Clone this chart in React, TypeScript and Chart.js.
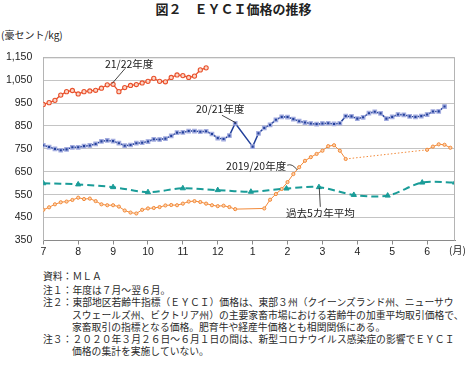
import { useEffect, useRef } from 'react';
import { Chart, registerables } from 'chart.js';

Chart.register(...registerables);

// x axis: months from July (0) to June (11); samples every 1/6 month
const MONTH_LABELS = ['7', '8', '9', '10', '11', '12', '1', '2', '3', '4', '5', '6'];
const STEP = 1 / 6;
const X_MAX = 11.8;

// 21/22年度
const fy2122 = [944, 952, 962, 985, 1000, 1005, 990, 1000, 1003, 1006, 1015, 1030, 1032, 1000, 1018, 1027,
  1031, 1038, 1045, 1058, 1045, 1043, 1062, 1073, 1070, 1062, 1068, 1095, 1104];

// 20/21年度
const fy2021 = [766, 758, 750, 744, 748, 757, 757, 762, 765, 772, 783, 787, 784, 775, 764, 767, 775, 777,
  782, 792, 791, 795, 807, 821, 822, 828, 828, 825, 827, 815, 797, 793, 808, 862,
  null, null,
  760, 818, 842, 855, 877, 890, 889, 880, 871, 865, 861, 858, 861, 862, 859, 862, 893, 892, 882, 888,
  906, 912, 905, 882, 890, 900, 899, 892, 890, 893, 900, 913, 914, 935];

// 2019/20年度
const fy1920 = [484, 495, 508, 517, 520, 527, 537, 531, 533, 522, 508, 504, 504, 498, 481, 472, 468, 484,
  490, 492, 496, 503, 505, 504, 511, 520, 522, 518, 511, 504, 500, 502, 496, 487,
  null, null, null, null,
  490, 528, 553, 575, 605, 640, 670, 698, 714, 728, 742, 762, 766, 742, 706,
  null, null, null, null, null, null, null, null, null, null, null, null, null,
  746, 760, 770, 768, 755];

// 過去5カ年平均
const avg5X = [0, 1, 2, 3, 4, 5, 5.95, 6.97, 7.9, 8.9, 9.87, 10.86, 11.8];
const avg5Y = [600, 595, 583, 561, 578, 570, 563, 577, 583, 549, 546, 603, 603];

// annotation labels (text position, then leader line start/end) in data units
const LABEL_TEXTS = ['21/22年度', '20/21年度', '2019/20年度', '過去5カ年平均'];
const LABEL_POS = [[2.46, 1122], [5.07, 923], [6.1, 675], [7.94, 472]];
const LEADERS = [[2.35, 1102, 1.97, 1035], [5.12, 897, 5.53, 863], [6.99, 679, 7.28, 658], [7.91, 580, 7.94, 497]];

const NOTES = [
  { text: '資料：ＭＬＡ', indent: false, y: 276 },
  { text: '注１：年度は７月～翌６月。', indent: false, y: 289.5 },
  { text: '注２：東部地区若齢牛指標（ＥＹＣＩ）価格は、東部３州（クイーンズランド州、ニューサウ', indent: false, y: 302 },
  { text: 'スウェールズ州、ビクトリア州）の主要家畜市場における若齢牛の加重平均取引価格で、', indent: true, y: 314.5 },
  { text: '家畜取引の指標となる価格。肥育牛や経産牛価格とも相関関係にある。', indent: true, y: 327 },
  { text: '注３：２０２０年３月２６日～６月１日の間は、新型コロナウイルス感染症の影響でＥＹＣＩ', indent: false, y: 339 },
  { text: '価格の集計を実施していない。', indent: true, y: 351 },
];

const toPoints = (arr: (number | null)[]) =>
  arr.map((v, i) => (v == null ? null : { x: i * STEP, y: v })).filter((p) => p !== null) as { x: number; y: number }[];

const CJK = '"Noto Sans CJK JP", sans-serif';

export default function App() {
  const ref = useRef<HTMLCanvasElement | null>(null);

  useEffect(() => {
    if (!ref.current) return;

    const annot = {
      id: 'annot',
      afterDatasetsDraw(chart: any) {
        const { ctx, chartArea, scales } = chart;
        const xs = scales.x;
        const ys = scales.y;
        ctx.save();
        ctx.strokeStyle = '#b4b4b4';
        ctx.lineWidth = 1;
        ctx.beginPath();
        ctx.moveTo(chartArea.left, chartArea.top + 0.5);
        ctx.lineTo(chartArea.right - 0.5, chartArea.top + 0.5);
        ctx.lineTo(chartArea.right - 0.5, chartArea.bottom);
        ctx.stroke();
        ctx.strokeStyle = '#333';
        ctx.lineWidth = 0.9;
        LEADERS.forEach((l, i) => {
          const x0 = xs.getPixelForValue(l[0]);
          const y0 = ys.getPixelForValue(l[1]);
          const x1 = xs.getPixelForValue(l[2]);
          const y1 = ys.getPixelForValue(l[3]);
          ctx.beginPath();
          ctx.moveTo(x0, y0);
          if (i === 2) {
            ctx.quadraticCurveTo((x0 + x1) / 2, y0 - 2, x1, y1);
          } else {
            ctx.lineTo(x1, y1);
          }
          ctx.stroke();
        });
        ctx.fillStyle = '#222';
        ctx.font = '10.5px ' + CJK;
        ctx.textAlign = 'center';
        ctx.textBaseline = 'middle';
        LABEL_TEXTS.forEach((t, i) => {
          ctx.fillText(t, xs.getPixelForValue(LABEL_POS[i][0]), ys.getPixelForValue(LABEL_POS[i][1]));
        });
        ctx.restore();
      },
    };

    const chart = new Chart(ref.current, {
      type: 'line',
      data: {
        datasets: [
          {
            label: '過去5カ年平均',
            data: avg5X.map((x, i) => ({ x, y: avg5Y[i] })),
            borderColor: '#1a9c98',
            backgroundColor: '#1a9c98',
            borderWidth: 2,
            borderDash: [7, 4],
            tension: 0.3,
            pointStyle: 'triangle',
            pointRadius: 3,
            pointBorderWidth: 1,
          },
          {
            label: '2019/20年度',
            data: toPoints(fy1920),
            borderColor: '#f28a3a',
            backgroundColor: '#fcd2ad',
            borderWidth: 1,
            pointStyle: 'circle',
            pointRadius: 1.6,
            pointBorderWidth: 1,
            pointBorderColor: '#f28a3a',
            segment: {
              borderDash: (ctx: any) => (ctx.p1.parsed.x - ctx.p0.parsed.x > 1.5 ? [1.5, 2] : undefined),
            },
          },
          {
            label: '20/21年度',
            data: toPoints(fy2021),
            borderColor: '#22409a',
            backgroundColor: '#22409a',
            borderWidth: 1.5,
            pointStyle: 'rect',
            pointRadius: 2.4,
            pointBorderWidth: 1.3,
            pointBorderColor: '#a3acdf',
          },
          {
            label: '21/22年度',
            data: toPoints(fy2122),
            borderColor: '#e9522d',
            backgroundColor: '#fbd6c8',
            borderWidth: 1.3,
            pointStyle: 'circle',
            pointRadius: 2.1,
            pointBorderWidth: 1.1,
            pointBorderColor: '#e9522d',
          },
        ],
      },
      options: {
        animation: false,
        responsive: false,
        maintainAspectRatio: false,
        layout: { padding: { top: 7.3, right: 12, left: 0, bottom: 0 } },
        plugins: { legend: { display: false }, tooltip: { enabled: false } },
        scales: {
          x: {
            type: 'linear',
            min: 0,
            max: X_MAX,
            afterFit: (s: any) => { s.height = 21.5; },
            afterBuildTicks: (s: any) => { s.ticks = MONTH_LABELS.map((_, i) => ({ value: i })); },
            ticks: {
              callback: (v: any) => MONTH_LABELS[Math.round(v)] ?? '',
              font: { family: '"Liberation Sans", Arial, sans-serif', size: 10.5 },
              color: '#222',
              padding: 1,
              maxRotation: 0,
              autoSkip: false,
            },
            grid: { drawOnChartArea: false, drawTicks: true, tickLength: 4, color: '#8a8a8a' },
            border: { display: true, color: '#8a8a8a', width: 1 },
          },
          y: {
            min: 350,
            max: 1150,
            afterFit: (s: any) => { s.width = 43.3; },
            ticks: {
              stepSize: 50,
              callback: (v: any) => Number(v).toLocaleString('en-US'),
              font: { family: '"Liberation Sans", Arial, sans-serif', size: 10.5 },
              color: '#222',
              padding: 11,
            },
            grid: { color: '#c4c4c4', lineWidth: 1, drawTicks: false },
            border: { display: true, color: '#b4b4b4', width: 1 },
          },
        },
      },
      plugins: [annot],
    } as any);

    return () => chart.destroy();
  }, []);

  return (
    <div style={{ position: 'absolute', left: 0, top: 0, width: 467, height: 366, background: '#fff', fontFamily: CJK, color: '#222', overflow: 'hidden' }}>
      <div style={{ position: 'absolute', left: 0, top: 1, width: 467, textAlign: 'center', fontSize: 13, fontWeight: 700, lineHeight: '16px', whiteSpace: 'nowrap' }}>
        図２　ＥＹＣＩ価格の推移
      </div>
      <div style={{ position: 'absolute', left: 1, top: 28, fontSize: 10, lineHeight: '14px', whiteSpace: 'nowrap' }}>(豪セント/kg)</div>
      <canvas ref={ref} width={467} height={222} style={{ position: 'absolute', left: 0, top: 40, width: 467, height: 222 }} />
      <div style={{ position: 'absolute', left: 449, top: 243, fontSize: 10, lineHeight: '14px', whiteSpace: 'nowrap' }}>(月)</div>
      {NOTES.map((n, i) => (
        <div key={i} style={{ position: 'absolute', left: n.indent ? 72 : 43, top: n.y - 7, fontSize: 9.8, lineHeight: '14px', whiteSpace: 'nowrap', color: '#2a2a2a' }}>
          {n.text}
        </div>
      ))}
    </div>
  );
}
